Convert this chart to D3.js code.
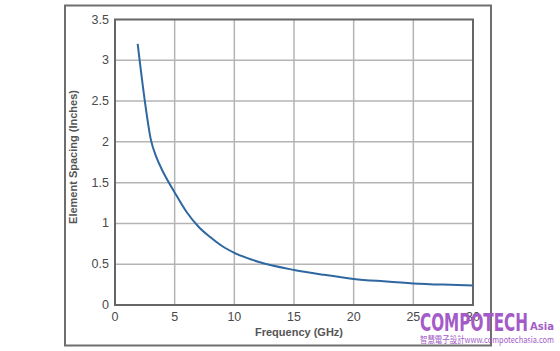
<!DOCTYPE html>
<html>
<head>
<meta charset="utf-8">
<script src="https://cdn.jsdelivr.net/npm/d3@7"></script>
<style>
  body { margin: 0; background: #fff; }
  svg { display: block; }
</style>
</head>
<body>
<div id="chart"></div>
<script>
// data
var freqGHz = [1.9, 2.5, 3, 3.5, 4, 5, 6, 7, 8, 9, 10, 12, 15, 17.5, 20, 22.5, 25, 27.5, 30];
var spacingIn = [3.2, 2.5, 2.03, 1.8, 1.64, 1.38, 1.14, 0.96, 0.83, 0.72, 0.64, 0.53, 0.43, 0.37, 0.32, 0.29, 0.265, 0.25, 0.24];
var xTicks = [0, 5, 10, 15, 20, 25, 30];
var yTicks = [0, 0.5, 1, 1.5, 2, 2.5, 3, 3.5];

var width = 560, height = 351;
var plot = { left: 115, right: 473, top: 19.5, bottom: 305 };

var svg = d3
  .select("#chart")
  .append("svg")
  .attr("width", width)
  .attr("height", height);

// outer frame
svg
  .append("rect")
  .attr("x", 65)
  .attr("y", 5.5)
  .attr("width", 426)
  .attr("height", 340)
  .attr("fill", "none")
  .attr("stroke", "#6e6e6e")
  .attr("stroke-width", 2);

var x = d3.scaleLinear().domain([0, 30]).range([plot.left, plot.right]);
var y = d3.scaleLinear().domain([0, 3.5]).range([plot.bottom, plot.top]);

// gridlines
svg
  .append("g")
  .selectAll("line")
  .data(xTicks.slice(1, -1))
  .enter()
  .append("line")
  .attr("x1", (d) => x(d))
  .attr("x2", (d) => x(d))
  .attr("y1", plot.top)
  .attr("y2", plot.bottom)
  .attr("stroke", "#b4b4b4")
  .attr("stroke-width", 1.5);

svg
  .append("g")
  .selectAll("line")
  .data(yTicks.slice(1, -1))
  .enter()
  .append("line")
  .attr("x1", plot.left)
  .attr("x2", plot.right)
  .attr("y1", (d) => y(d))
  .attr("y2", (d) => y(d))
  .attr("stroke", "#b4b4b4")
  .attr("stroke-width", 1.5);

// plot frame
svg
  .append("rect")
  .attr("x", plot.left)
  .attr("y", plot.top)
  .attr("width", plot.right - plot.left)
  .attr("height", plot.bottom - plot.top)
  .attr("fill", "none")
  .attr("stroke", "#666")
  .attr("stroke-width", 2);

// tick labels
svg
  .append("g")
  .attr("font-family", "Liberation Sans, Arial, sans-serif")
  .attr("font-size", "12.5px")
  .attr("fill", "#4a4a4a")
  .selectAll("text")
  .data(xTicks)
  .enter()
  .append("text")
  .attr("x", (d) => x(d))
  .attr("y", 321)
  .attr("text-anchor", "middle")
  .text((d) => d);

svg
  .append("g")
  .attr("font-family", "Liberation Sans, Arial, sans-serif")
  .attr("font-size", "12.5px")
  .attr("fill", "#4a4a4a")
  .selectAll("text")
  .data(yTicks)
  .enter()
  .append("text")
  .attr("x", 109)
  .attr("y", (d) => y(d) + 4)
  .attr("text-anchor", "end")
  .text((d) => d);

// axis titles
svg
  .append("text")
  .attr("x", 299)
  .attr("y", 335.5)
  .attr("text-anchor", "middle")
  .attr("font-family", "Liberation Sans, Arial, sans-serif")
  .attr("font-size", "11px")
  .attr("font-weight", "bold")
  .attr("fill", "#555")
  .text("Frequency (GHz)");

svg
  .append("text")
  .attr("transform", "translate(77,157) rotate(-90)")
  .attr("text-anchor", "middle")
  .attr("font-family", "Liberation Sans, Arial, sans-serif")
  .attr("font-size", "11px")
  .attr("font-weight", "bold")
  .attr("fill", "#555")
  .text("Element Spacing (Inches)");

// curve
var line = d3
  .line()
  .x((d, i) => x(freqGHz[i]))
  .y((d) => y(d))
  .curve(d3.curveMonotoneX);

svg
  .append("path")
  .attr("d", line(spacingIn))
  .attr("fill", "none")
  .attr("stroke", "#2f67a0")
  .attr("stroke-width", 2);

// watermark
svg
  .append("text")
  .attr("x", 420)
  .attr("y", 331)
  .attr("font-family", "Liberation Sans Narrow, DejaVu Sans Condensed, sans-serif")
  .attr("font-size", "25px")
  .attr("font-weight", "bold")
  .attr("textLength", 108)
  .attr("lengthAdjust", "spacingAndGlyphs")
  .attr("fill", "#a45bc8")
  .text("COMPOTECH");

svg
  .append("text")
  .attr("x", 530)
  .attr("y", 330)
  .attr("font-family", "Liberation Sans Narrow, DejaVu Sans Condensed, sans-serif")
  .attr("font-size", "11px")
  .attr("font-weight", "bold")
  .attr("textLength", 24)
  .attr("lengthAdjust", "spacingAndGlyphs")
  .attr("fill", "#a45bc8")
  .text("Asia");

svg
  .append("text")
  .attr("x", 420)
  .attr("y", 343)
  .attr("font-family", "Noto Sans CJK TC, sans-serif")
  .attr("font-size", "9px")
  .attr("textLength", 134)
  .attr("lengthAdjust", "spacingAndGlyphs")
  .attr("fill", "#a45bc8")
  .text("智慧電子設計www.compotechasia.com");
</script>
</body>
</html>
